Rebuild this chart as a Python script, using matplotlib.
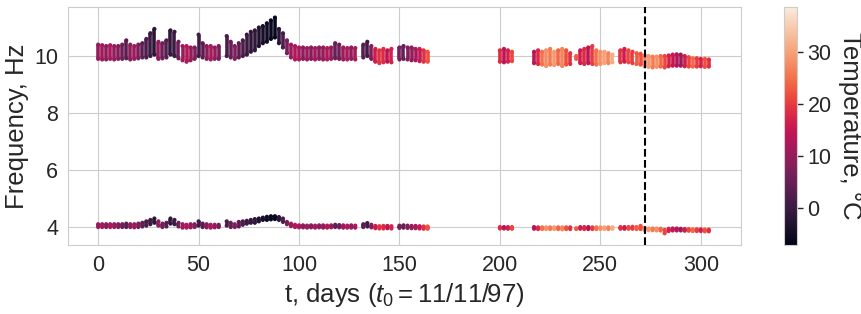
import matplotlib
matplotlib.use("Agg")
import matplotlib.pyplot as plt
import seaborn as sns
import numpy as np

day = [0, 2, 4, 6, 8, 10, 12, 14, 16, 18, 20, 22, 24, 26, 28, 30, 32, 34, 36, 38,
       40, 42, 44, 46, 48, 50, 52, 54, 56, 58, 60, 64, 66, 68, 70, 72, 74, 76, 78, 80,
       82, 84, 86, 88, 90, 92, 94, 96, 98, 100, 102, 104, 106, 108, 110, 112, 114, 116, 118, 120,
       122, 124, 126, 128, 132, 134, 136, 138, 140, 142, 144, 146, 150, 152, 154, 156, 158, 160, 162, 164,
       200, 202, 204, 206,
       217, 219, 221, 223, 225, 227, 229, 231, 233, 235, 238, 240, 242, 244, 246, 248, 250, 252, 254, 256,
       260, 262, 264, 266, 268, 270, 272, 274, 276, 278, 280, 282, 284, 286, 288, 290, 292, 294, 296, 298,
       300, 302, 304]

f1_lo = [9.90, 9.88, 9.88, 9.90, 9.88, 9.90, 9.90, 9.92, 9.88, 9.90, 9.92, 9.95, 9.95, 10.0, 10.05, 9.90, 9.92, 9.95, 10.05, 10.0,
         9.92, 9.85, 9.80, 9.85, 9.90, 10.0, 9.95, 9.90, 9.88, 9.90, 9.90, 10.0, 9.95, 9.90, 9.95, 10.0, 10.05, 10.15, 10.2, 10.35,
         10.45, 10.5, 10.6, 10.65, 10.45, 10.3, 10.1, 9.95, 9.88, 9.88, 9.90, 9.88, 9.90, 9.88, 9.90, 9.88, 9.88, 9.90, 9.92, 9.90,
         9.88, 9.88, 9.90, 9.88, 9.95, 10.0, 9.90, 9.80, 9.75, 9.78, 9.80, 9.78, 9.88, 9.90, 9.88, 9.85, 9.85, 9.82, 9.80, 9.80,
         9.80, 9.78, 9.80, 9.82,
         9.75, 9.72, 9.70, 9.65, 9.70, 9.68, 9.72, 9.65, 9.70, 9.72, 9.90, 9.75, 9.72, 9.75, 9.72, 9.70, 9.72, 9.75, 9.75, 9.78,
         9.78, 9.80, 9.78, 9.75, 9.72, 9.70, 9.65, 9.62, 9.60, 9.62, 9.63, 9.60, 9.64, 9.66, 9.66, 9.66, 9.64, 9.63, 9.63, 9.63,
         9.64, 9.62, 9.63]

f1_hi = [10.40, 10.38, 10.35, 10.38, 10.35, 10.35, 10.40, 10.55, 10.40, 10.35, 10.40, 10.45, 10.60, 10.80, 10.95, 10.50, 10.45, 10.55, 10.90, 10.85,
         10.50, 10.35, 10.35, 10.30, 10.30, 10.75, 10.45, 10.35, 10.35, 10.30, 10.35, 10.70, 10.50, 10.35, 10.45, 10.55, 10.75, 10.85, 10.90, 11.0,
         11.05, 11.15, 11.25, 11.35, 10.95, 10.80, 10.55, 10.40, 10.35, 10.30, 10.30, 10.28, 10.30, 10.28, 10.30, 10.30, 10.28, 10.30, 10.45, 10.40,
         10.30, 10.28, 10.30, 10.28, 10.40, 10.50, 10.35, 10.25, 10.20, 10.25, 10.20, 10.25, 10.30, 10.35, 10.30, 10.30, 10.25, 10.25, 10.20, 10.15,
         10.20, 10.25, 10.20, 10.15,
         10.15, 10.20, 10.15, 10.20, 10.25, 10.15, 10.20, 10.25, 10.20, 10.10, 10.00, 10.20, 10.25, 10.30, 10.35, 10.20, 10.15, 10.15, 10.10, 10.05,
         10.20, 10.25, 10.20, 10.15, 10.10, 10.08, 10.02, 10.00, 9.98, 9.98, 10.00, 10.00, 10.02, 10.05, 10.06, 10.05, 10.00, 9.96, 9.92, 9.92,
         9.90, 9.90, 9.88]

f2_lo = [4.00, 4.00, 4.00, 4.00, 4.00, 4.00, 4.00, 4.00, 4.00, 3.99, 4.00, 4.02, 4.05, 4.10, 4.15, 4.05, 4.00, 4.02, 4.12, 4.10,
         4.02, 3.98, 3.98, 3.99, 4.00, 4.05, 4.00, 3.99, 3.98, 3.99, 4.00, 4.05, 4.00, 4.00, 4.02, 4.08, 4.12, 4.15, 4.15, 4.20,
         4.25, 4.25, 4.27, 4.28, 4.25, 4.18, 4.10, 4.03, 4.00, 3.99, 3.99, 3.98, 3.99, 3.98, 3.99, 3.98, 3.98, 3.99, 4.00, 3.99,
         3.98, 3.98, 3.98, 3.98, 4.00, 4.02, 3.99, 3.96, 3.95, 3.95, 3.96, 3.95, 3.97, 3.98, 3.97, 3.96, 3.96, 3.95, 3.94, 3.94,
         3.95, 3.95, 3.94, 3.94,
         3.94, 3.93, 3.93, 3.93, 3.93, 3.93, 3.93, 3.92, 3.93, 3.93, 3.93, 3.94, 3.93, 3.93, 3.93, 3.93, 3.93, 3.93, 3.93, 3.94,
         3.94, 3.94, 3.94, 3.94, 3.93, 3.93, 3.90, 3.89, 3.89, 3.88, 3.88, 3.78, 3.86, 3.88, 3.88, 3.88, 3.87, 3.87, 3.86, 3.86,
         3.86, 3.85, 3.85]

f2_hi = [4.10, 4.10, 4.10, 4.10, 4.10, 4.10, 4.10, 4.12, 4.10, 4.10, 4.12, 4.15, 4.20, 4.25, 4.30, 4.20, 4.12, 4.15, 4.30, 4.25,
         4.15, 4.10, 4.08, 4.10, 4.10, 4.20, 4.12, 4.10, 4.08, 4.08, 4.08, 4.20, 4.15, 4.10, 4.18, 4.20, 4.22, 4.25, 4.28, 4.30,
         4.33, 4.36, 4.38, 4.38, 4.35, 4.30, 4.18, 4.12, 4.08, 4.06, 4.06, 4.05, 4.06, 4.05, 4.06, 4.06, 4.05, 4.06, 4.08, 4.07,
         4.06, 4.05, 4.06, 4.05, 4.10, 4.14, 4.08, 4.04, 4.03, 4.04, 4.04, 4.03, 4.05, 4.06, 4.05, 4.04, 4.04, 4.03, 4.02, 4.02,
         4.00, 4.00, 4.00, 4.00,
         4.00, 3.99, 3.99, 3.99, 3.99, 3.99, 3.99, 3.99, 3.99, 3.99, 3.96, 4.00, 4.00, 4.00, 3.99, 3.99, 3.99, 3.99, 3.99, 3.99,
         4.00, 4.00, 4.00, 4.01, 4.00, 4.04, 3.97, 3.95, 3.95, 3.95, 3.94, 3.90, 3.94, 3.95, 3.95, 3.94, 3.93, 3.93, 3.92, 3.92,
         3.92, 3.91, 3.91]

temp = [10, 11, 9, 12, 10, 8, 6, 4, 9, 11, 7, 4, 2, 0, -2, 10, 6, 3, -1, 0,
        6, 11, 13, 10, 8, 1, 4, 9, 12, 10, 7, 2, 5, 8, 4, 2, 0, -1, -1, -3,
        -4, -5, -6, -6, -2, 2, 7, 11, 13, 12, 9, 11, 8, 12, 9, 10, 13, 10, 5, 6,
        11, 13, 9, 12, 4, 1, 8, 16, 19, 18, 14, 17, 7, 5, 8, 10, 12, 15, 19, 22,
        18, 14, 17, 21,
        14, 18, 25, 28, 26, 29, 24, 27, 22, 19, 23, 16, 18, 14, 20, 25, 28, 30, 27, 31,
        19, 16, 21, 20, 23, 22, 27, 29, 26, 28, 24, 21, 17, 15, 13, 11, 16, 21, 24, 20,
        17, 22, 19]

event_day = 272
t_min, t_max = -7, 38.6

sns.set_style("whitegrid")
plt.rcParams["font.family"] = ["Liberation Sans", "DejaVu Sans"]
plt.rcParams["mathtext.fontset"] = "custom"
plt.rcParams["mathtext.rm"] = "Liberation Sans"
plt.rcParams["mathtext.it"] = "Liberation Sans:italic"

fig = plt.figure(figsize=(8.62, 3.14), dpi=100)
ax = fig.add_axes([0.0789, 0.2197, 0.7807, 0.758])
cax = fig.add_axes([0.9095, 0.2197, 0.0151, 0.758])

cmap = sns.color_palette("rocket", as_cmap=True)
norm = plt.Normalize(t_min, t_max)
cols = cmap(norm(np.array(temp)))

for lo, hi in [(f1_lo, f1_hi), (f2_lo, f2_hi)]:
    ax.vlines(day, lo, hi, colors=cols, linewidth=2.6, zorder=2)
    sc = ax.scatter(day, lo, c=temp, cmap=cmap, norm=norm, s=9, linewidths=0, zorder=3)
    ax.scatter(day, hi, c=temp, cmap=cmap, norm=norm, s=9, linewidths=0, zorder=3)

ax.axvline(event_day, color="k", linestyle="--", linewidth=1.5, zorder=4)

ax.set_xlim(-15, 320)
ax.set_ylim(3.37, 11.72)
ax.set_xticks([0, 50, 100, 150, 200, 250, 300])
ax.set_yticks([4, 6, 8, 10])
ax.tick_params(labelsize=15.5, colors=".15")
ax.set_xlabel(r"t, days ($t_0 = 11/11/97$)", fontsize=18.5, color=".15")
ax.set_ylabel("Frequency, Hz", fontsize=18.5, color=".15")

cb = fig.colorbar(sc, cax=cax)
cb.set_ticks([0, 10, 20, 30])
cb.ax.tick_params(labelsize=15.5, colors=".15", length=4, width=1)
cb.set_label("Temperature, °C", fontsize=18.5, rotation=270, labelpad=22, color=".15")
cb.outline.set_edgecolor(".8")

fig.savefig("out.png", dpi=100)
